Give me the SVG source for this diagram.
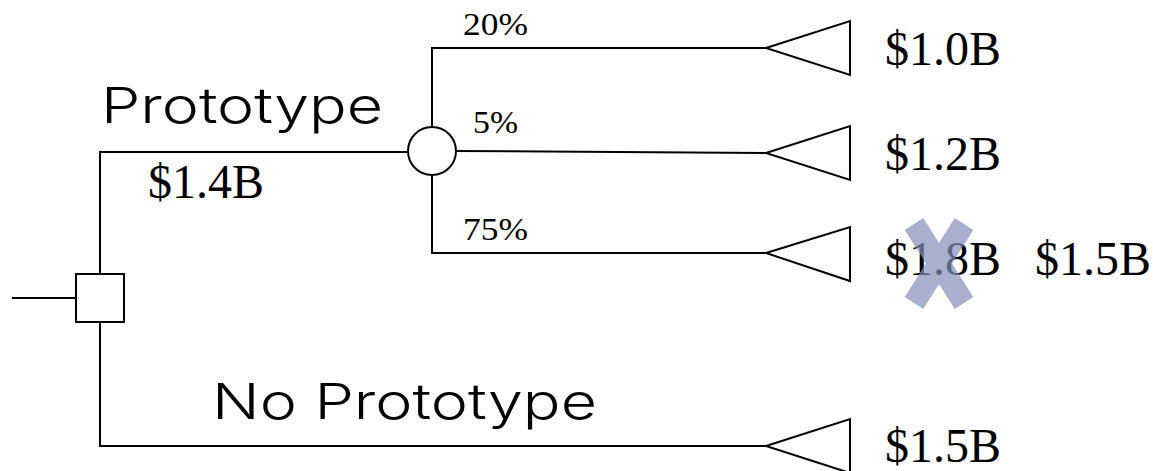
<svg xmlns="http://www.w3.org/2000/svg" width="1153" height="471" viewBox="0 0 1153 471">
<style>
.ln{fill:none;stroke:#000;stroke-width:2}
.nd{fill:#fff;stroke:#000;stroke-width:2}
.val{font-family:"Liberation Serif",serif;font-size:48px;fill:#000}
.pct{font-family:"Liberation Serif",serif;font-size:32px;fill:#000}
.lbl{font-family:Inter,Lato,sans-serif;font-weight:300;font-size:49px;fill:#000}
.xm{stroke:#8690bb;stroke-width:22;fill:none}
</style>
<g id="connectors">
<line class="ln" x1="12" y1="298" x2="76" y2="298"/>
<polyline class="ln" points="100,273 100,152 408,152"/>
<polyline class="ln" points="100,322 100,446 766,446"/>
<polyline class="ln" points="432,127 432,48 766,48"/>
<line class="ln" x1="456" y1="151" x2="766" y2="153"/>
<polyline class="ln" points="432,175 432,253 766,253"/>
</g>
<g id="decision"><rect class="nd" x="76" y="274" width="48" height="48"/></g>
<g id="chance"><circle class="nd" cx="432" cy="151" r="24"/></g>
<g id="end1"><polygon class="nd" points="766,48 850,21 850,75"/><text class="val" x="885" y="65">$1.0B</text></g>
<g id="end2"><polygon class="nd" points="766,153 850,126 850,180"/><text class="val" x="885" y="170">$1.2B</text></g>
<g id="end3"><polygon class="nd" points="766,253 850,227 850,281"/><text class="val" x="885" y="275">$1.8B</text>
<g opacity="0.7"><line class="xm" x1="914" y1="224" x2="964" y2="303"/><line class="xm" x1="964" y1="224" x2="914" y2="303"/></g>
<text class="val" x="1035" y="275">$1.5B</text></g>
<g id="end4"><polygon class="nd" points="766,446 850,419 850,473"/><text class="val" x="885" y="462">$1.5B</text></g>
<g id="labels">
<text class="lbl" x="101" y="123" textLength="282" lengthAdjust="spacingAndGlyphs">Prototype</text>
<text class="val" x="148" y="198">$1.4B</text>
<text class="lbl" x="212" y="419" textLength="385" lengthAdjust="spacingAndGlyphs">No Prototype</text>
<text class="pct" x="463" y="35" textLength="65" lengthAdjust="spacingAndGlyphs">20%</text>
<text class="pct" x="473" y="133" textLength="45" lengthAdjust="spacingAndGlyphs">5%</text>
<text class="pct" x="463" y="240" textLength="65" lengthAdjust="spacingAndGlyphs">75%</text>
</g>
</svg>
